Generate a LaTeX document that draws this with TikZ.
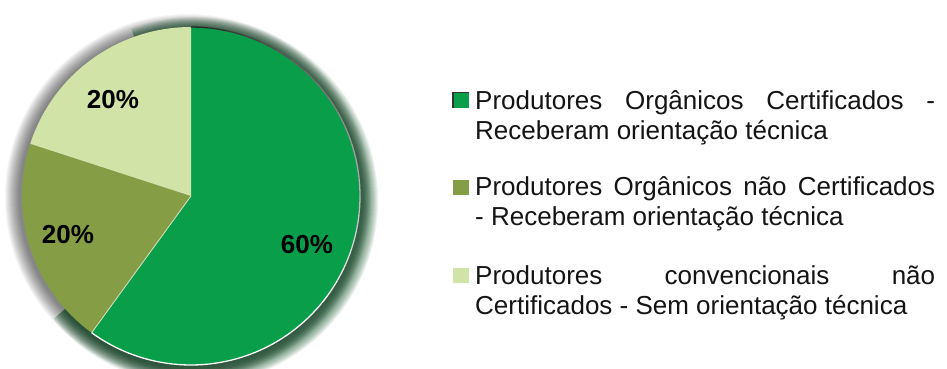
\documentclass[tikz,border=0pt]{standalone}
\usepackage{fontspec}
\setmainfont{Liberation Sans}
\definecolor{pgreen}{RGB}{8,158,74}
\definecolor{polive}{RGB}{133,158,69}
\definecolor{plight}{RGB}{209,227,166}
\definecolor{glowgreen}{RGB}{10,80,35}
\definecolor{txt}{RGB}{20,20,20}
\begin{document}
\begin{tikzpicture}[x=1pt,y=1pt,
  pct/.style={font=\fontsize{26}{30}\selectfont\bfseries, inner sep=0pt, text=black},
  legtext/.style={font=\fontsize{26}{30}\selectfont, anchor=base west, inner sep=0pt, text=txt},
  legkey/.style={minimum width=16pt, minimum height=15pt, inner sep=0pt, anchor=south west}]
\useasboundingbox[fill=white] (0,0) rectangle (947,369);
\coordinate (c) at (191,173);
% soft glow behind the pie
\foreach \k in {1,...,15} {
  \fill[black, opacity=0.04] ([shift={(-3,-1)}]c) circle[radius={168pt+\k pt}];
  \fill[glowgreen, opacity=0.07] ([shift={(3,-5)}]c) -- ++(110:{169+\k}) arc[start angle=110, end angle=-140, radius={169pt+\k pt}] -- cycle;
}
% slices
\fill[pgreen] (c) -- ++(90:169) arc[start angle=90, end angle=-126, radius=169pt] -- cycle;
\fill[polive] (c) -- ++(234:169) arc[start angle=234, end angle=162, radius=169pt] -- cycle;
\fill[plight] (c) -- ++(162:169) arc[start angle=162, end angle=90, radius=169pt] -- cycle;
\draw[white!70!polive, line width=0.8pt] (c) -- ++(234:169);
% bevel edge of the green slice
\foreach \a in {90,84,...,-120} {
  \pgfmathtruncatemacro\p{max(0,min(85,85*(\a+40)/130))}
  \draw[black!\p!white, line width=1.3pt] (c) ++(\a:169) arc[start angle=\a, end angle=\a-6, radius=169pt];
}
% labels
\node[pct] (l1) at (113,269) {20\%};
\node[pct] (l2) at (68,134) {20\%};
\node[pct] (l3) at (307,124) {60\%};
% legend
\node[legkey, fill=pgreen] (k1) at (453,261) {};
\draw[black!80, line width=1.5pt] (k1.south west) -- (k1.north west) -- (k1.north east);
\node[legkey, fill=polive] (k2) at (453,174) {};
\node[legkey, fill=plight] (k3) at (453,86) {};
\node[legtext] (t1a) at (475,259) {\makebox[460pt][s]{Produtores Orgânicos Certificados -}};
\node[legtext] (t1b) at (475,229) {Receberam orientação técnica};
\node[legtext] (t2a) at (475,173) {\makebox[460pt][s]{Produtores Orgânicos não Certificados}};
\node[legtext] (t2b) at (475,143) {- Receberam orientação técnica};
\node[legtext] (t3a) at (475,84) {\makebox[460pt][s]{Produtores convencionais não}};
\node[legtext] (t3b) at (475,54) {Certificados - Sem orientação técnica};
\end{tikzpicture}
\end{document}
